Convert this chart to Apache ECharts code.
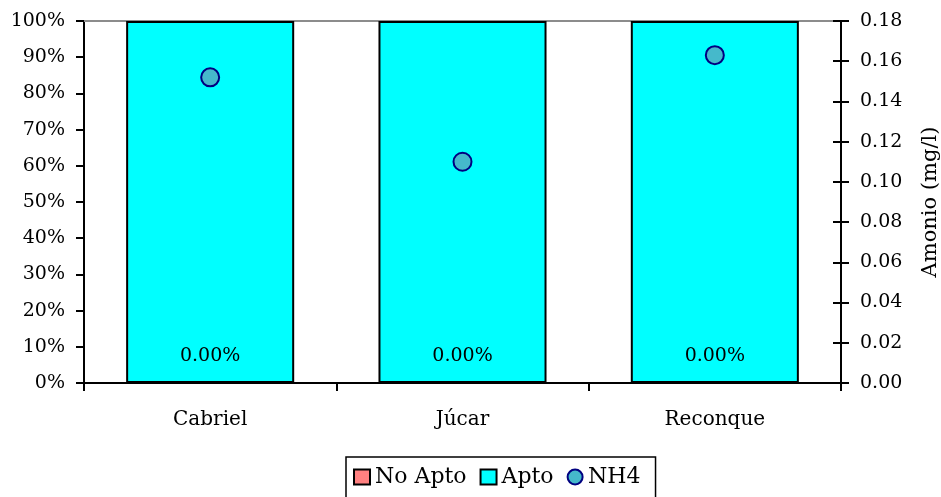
<!DOCTYPE html>
<html>
<head>
<meta charset="utf-8">
<script src="https://cdn.jsdelivr.net/npm/echarts@6/dist/echarts.min.js"></script>
<style>html,body{margin:0;padding:0;background:#fff}#c{width:941px;height:497px}</style>
</head>
<body>
<div id="c"></div>
<script>
const categories = ['Cabriel', 'Júcar', 'Reconque'];
const noApto = [0, 0, 0];
const apto = [100, 100, 100];
const nh4 = [0.152, 0.110, 0.163];
const leftTicks = {min: 0, max: 100, interval: 10};
const rightTicks = {min: 0, max: 0.18, interval: 0.02};

const FONT = 'DejaVu Serif';
const FS = 19;
const chart = echarts.init(document.getElementById('c'), null, {renderer: 'canvas'});
chart.setOption({
  animation: false,
  textStyle: {fontFamily: FONT, color: '#000'},
  grid: {left: 84, right: 100, top: 21, bottom: 114, containLabel: false, outerBoundsMode: 'none'},
  legend: {
    top: 457, left: 346,
    padding: [9, 15, 22, 7],
    borderColor: '#000', borderWidth: 1.5,
    itemWidth: 16, itemHeight: 15, itemGap: 13,
    textStyle: {fontFamily: FONT, fontSize: 22, color: '#000'},
    data: [
      {name: 'No Apto', icon: 'rect'},
      {name: 'Apto', icon: 'rect'},
      {name: 'NH4', icon: 'circle'}
    ]
  },
  xAxis: [{
    type: 'category', data: categories, position: 'bottom',
    axisLine: {onZero: false, lineStyle: {color: '#000', width: 2}},
    axisTick: {show: true, length: 8, lineStyle: {color: '#000', width: 2}},
    axisLabel: {fontFamily: FONT, fontSize: 20, color: '#000', margin: 27}
  }, {
    type: 'category', data: categories, position: 'top',
    axisLine: {show: true, onZero: false, lineStyle: {color: '#8c8c8c', width: 2}},
    axisTick: {show: false}, axisLabel: {show: false}
  }],
  yAxis: [{
    type: 'value', position: 'left', min: leftTicks.min, max: leftTicks.max, interval: leftTicks.interval,
    axisLine: {show: true, lineStyle: {color: '#000', width: 2}},
    axisTick: {show: true, length: 8, lineStyle: {color: '#000', width: 2}},
    splitLine: {show: false},
    axisLabel: {fontFamily: FONT, fontSize: FS, color: '#000', margin: 19, formatter: v => v + '%'}
  }, {
    type: 'value', position: 'right', min: rightTicks.min, max: rightTicks.max, interval: rightTicks.interval,
    name: 'Amonio (mg/l)', nameLocation: 'middle', nameGap: 79, nameRotate: 90,
    nameTextStyle: {fontFamily: FONT, fontSize: 21, color: '#000'},
    axisLine: {show: true, lineStyle: {color: '#000', width: 2}},
    axisTick: {show: true, length: 8, lineStyle: {color: '#000', width: 2}},
    splitLine: {show: false},
    axisLabel: {fontFamily: FONT, fontSize: FS, color: '#000', margin: 19, formatter: v => v.toFixed(2)}
  }, {
    type: 'value', position: 'right', min: rightTicks.min, max: rightTicks.max, interval: rightTicks.interval,
    axisLine: {show: false},
    axisTick: {show: true, inside: true, length: 8, lineStyle: {color: '#000', width: 2}},
    splitLine: {show: false}, axisLabel: {show: false}
  }],
  series: [{
    name: 'No Apto', type: 'bar', stack: 'a', data: noApto, barWidth: '66.6%',
    itemStyle: {color: '#FF8080', borderColor: '#000', borderWidth: 2},
    label: {show: true, position: 'top', distance: 16, fontFamily: FONT, fontSize: FS, color: '#000',
      formatter: p => p.value.toFixed(2) + '%'}
  }, {
    name: 'Apto', type: 'bar', stack: 'a', data: apto, barWidth: '66.6%',
    itemStyle: {color: '#00FFFF', borderColor: '#000', borderWidth: 2}
  }, {
    name: 'NH4', type: 'scatter', yAxisIndex: 1, data: nh4, symbol: 'circle', symbolSize: 18,
    itemStyle: {color: '#45B9CB', borderColor: '#000080', borderWidth: 2, opacity: 1},
    z: 5
  }]
});
</script>
</body>
</html>
